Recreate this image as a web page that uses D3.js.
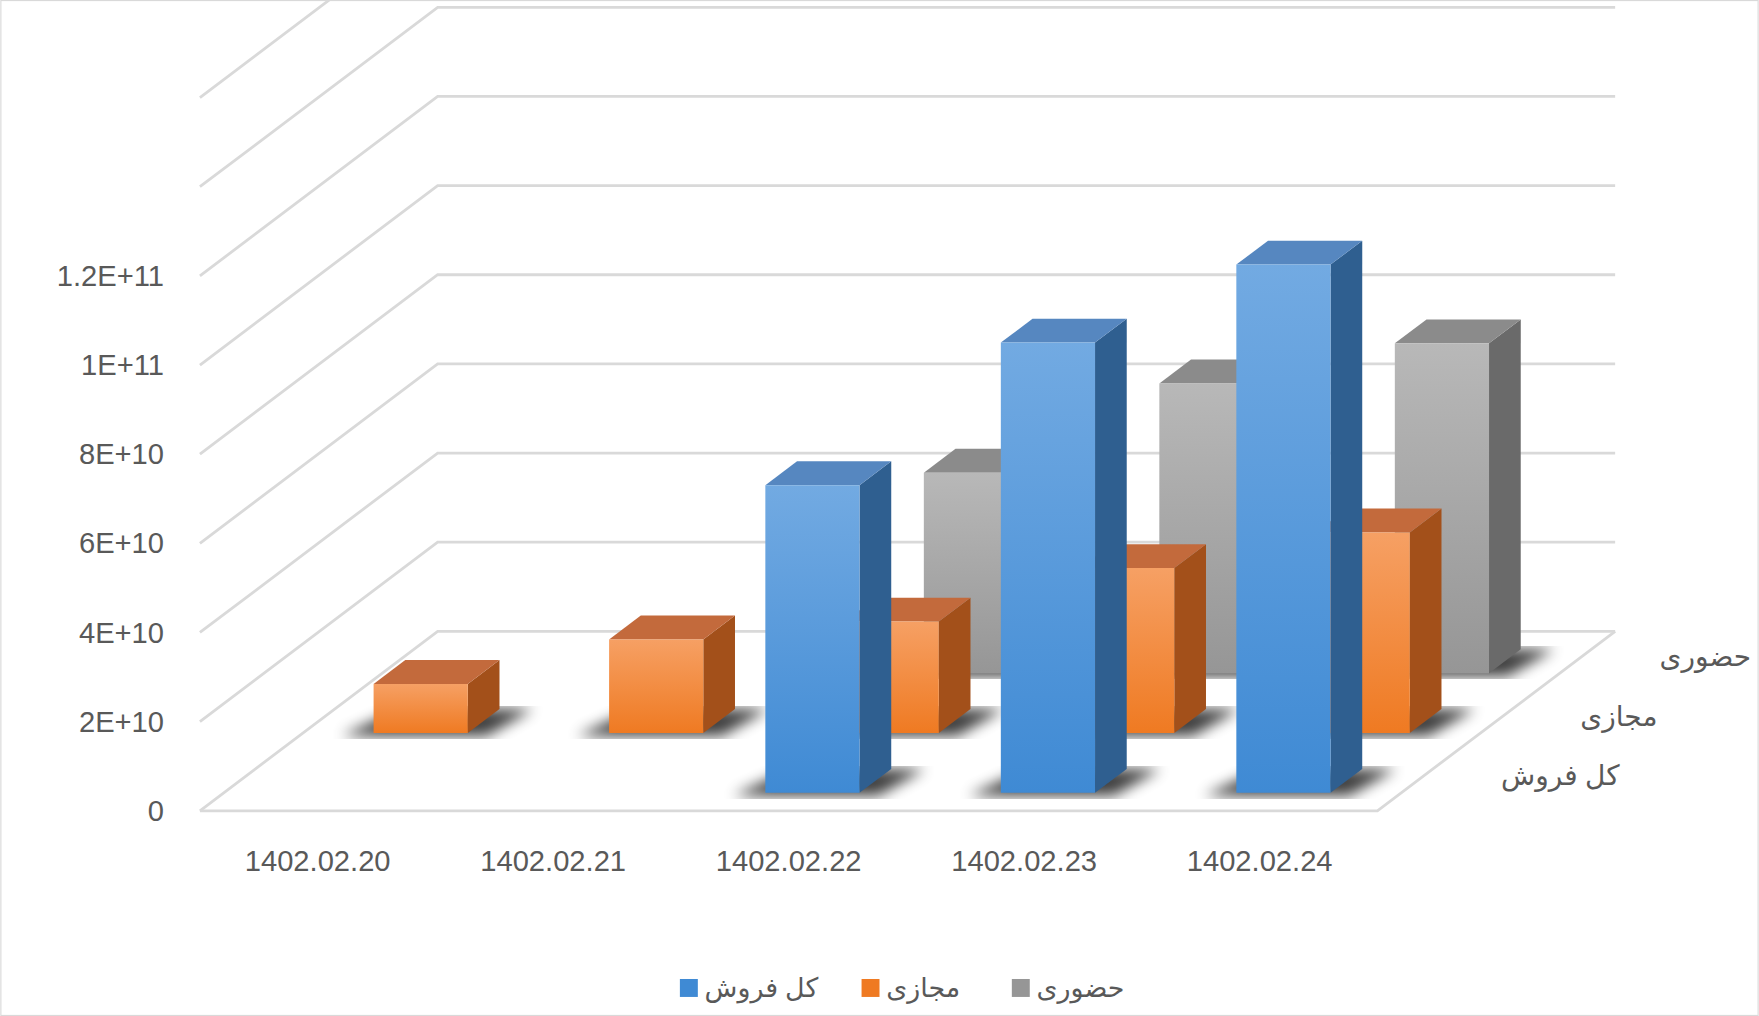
<!DOCTYPE html><html><head><meta charset="utf-8">
<script src="https://cdn.jsdelivr.net/npm/d3@7"></script>
<style>body{margin:0;background:#fff}svg{display:block}</style></head><body>
<script>
const categories=["1402.02.20","1402.02.21","1402.02.22","1402.02.23","1402.02.24"];
const seriesNames=["کل فروش","مجازی","حضوری"];
const totalSales=[null,null,6.9e10,1.01e11,1.185e11];
const virtualSales=[1.1e10,2.1e10,2.5e10,3.7e10,4.5e10];
const inPerson=[null,null,4.5e10,6.5e10,7.4e10];
const tickValues=[0,2e10,4e10,6e10,8e10,1e11,1.2e11];
const tickLabels=["0","2E+10","4E+10","6E+10","8E+10","1E+11","1.2E+11"];
const series=[totalSales,virtualSales,inPerson];

const W=1568,H=906;
const svg=d3.select("body").append("svg").attr("width",1759).attr("height",1016).attr("viewBox",`0 0 ${W} ${H}`);
svg.append("rect").attr("x",0.5).attr("y",0.5).attr("width",W-1).attr("height",H-1).attr("fill","#fff").attr("stroke","#d9d9d9");
const defs=svg.append("defs");
defs.append("filter").attr("id","blur").append("feGaussianBlur").attr("stdDeviation",6);
const colors=[{f1:"#72aae2",f2:"#3f8ad4",side:"#2f5f90",top:"#5687c0"},
{f1:"#f6a064",f2:"#ef7a22",side:"#a3501a",top:"#c36a3c"},
{f1:"#b8b8b8",f2:"#969696",side:"#6a6a6a",top:"#8b8b8b"}];
colors.forEach((c,i)=>{const g=defs.append("linearGradient").attr("id","g"+i).attr("x1",0).attr("y1",0).attr("x2",0).attr("y2",1);
g.append("stop").attr("offset",0).attr("stop-color",c.f1);g.append("stop").attr("offset",1).attr("stop-color",c.f2);});

const x0=178,y0=723,floorW=1050,depthX=212,depthY=-160,nRows=3;
const xs=d3.scaleBand().domain(categories).range([0,floorW]);
const ys=d3.scaleLinear().domain([0,1.6e11]).range([0,636]);
const dep=d3.scaleLinear().domain([0,nRows]).range([0,1]);
function P(xx,d,v){const t=dep(d);return [x0+xx+t*depthX, y0+t*depthY-ys(v)];}
const g=svg.append("g");
// back wall + side wall gridlines
d3.range(0,1.6e11+1,2e10).forEach(v=>{
 const a=P(0,0,v),b=P(0,nRows,v),c=P(floorW,nRows,v);
 g.append("path").attr("d",`M${a}L${b}L${c}`).attr("fill","none").attr("stroke","#d9d9d9").attr("stroke-width",2.5);
});
// floor outline
{const a=P(0,0,0),b=P(floorW,0,0),c=P(floorW,nRows,0);
g.append("path").attr("d",`M${a}L${b}L${c}`).attr("fill","none").attr("stroke","#d9d9d9").attr("stroke-width",2.5);}
// y labels
tickValues.forEach((v,i)=>{const p=P(0,0,v);g.append("text").attr("x",p[0]-32).attr("y",p[1]+9).attr("text-anchor","end")
 .attr("font-family","Liberation Sans, Arial").attr("font-size",26).attr("fill","#595959").text(tickLabels[i]);});
categories.forEach(c=>{const p=P(xs(c)+xs.bandwidth()/2,0,0);g.append("text").attr("x",p[0]).attr("y",p[1]+54).attr("text-anchor","middle")
 .attr("font-family","Liberation Sans, Arial").attr("font-size",26).attr("fill","#595959").text(c);});
seriesNames.forEach((n,r)=>{const p=P(floorW,r+0.5,0);g.append("text").attr("x",p[0]+75).attr("y",p[1]+4).attr("text-anchor","start")
 .attr("font-family","Noto Sans, DejaVu Sans").attr("font-size",25).attr("fill","#595959").text(n);});
// bars, back to front
for(let r=nRows-1;r>=0;r--){
 const c=colors[r];
 series[r].forEach((v,i)=>{ if(v==null)return;
  const xl=xs(categories[i])+xs.bandwidth()*0.3, xr=xs(categories[i])+xs.bandwidth()*0.7;
  const df=r+0.3,db=r+0.7;
  const f=[P(xl,df,0),P(xr,df,0),P(xr,df,v),P(xl,df,v)];
  const s=[P(xr,df,0),P(xr,db,0),P(xr,db,v),P(xr,df,v)];
  const t=[P(xl,df,v),P(xr,df,v),P(xr,db,v),P(xl,db,v)];
  const sh=[P(xl-25,df-0.05,0),P(xr+20,df-0.05,0),P(xr+30,db,0),P(xl-5,db,0)];
  const poly=pts=>"M"+pts.join("L")+"Z";
  g.append("path").attr("d",poly(sh)).attr("fill","#000").attr("opacity",0.75).attr("filter","url(#blur)");
  g.append("path").attr("d",poly(s)).attr("fill",c.side);
  g.append("path").attr("d",poly(t)).attr("fill",c.top);
  g.append("path").attr("d",poly(f)).attr("fill",`url(#g${r})`);
 });
}
// legend
const lg=svg.append("g").attr("font-family","Noto Sans, DejaVu Sans").attr("font-size",24).attr("fill","#595959");
const legX=[606,768,902];
seriesNames.forEach((n,i)=>{lg.append("rect").attr("x",legX[i]).attr("y",873).attr("width",16).attr("height",16).attr("fill",colors[i].f2);
 lg.append("text").attr("x",legX[i]+22).attr("y",889).text(n);});
</script></body></html>
